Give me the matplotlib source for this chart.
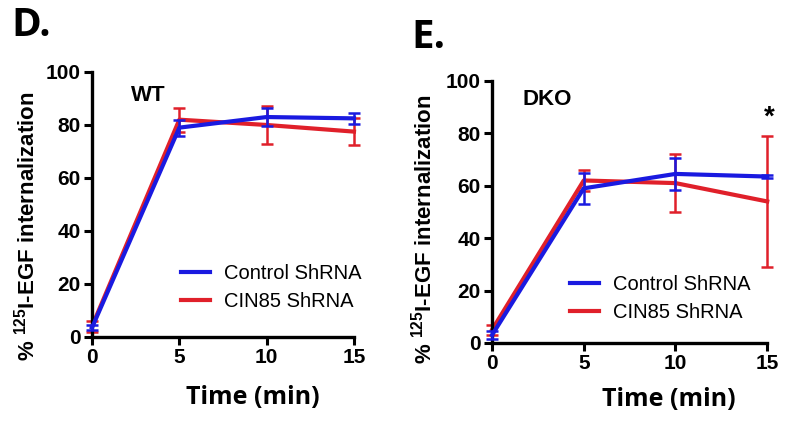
import numpy as np
import matplotlib
matplotlib.use("Agg")
import matplotlib.pyplot as plt

plt.rcParams['font.family'] = ['Liberation Sans', 'DejaVu Sans']
plt.rcParams['mathtext.fontset'] = 'custom'
plt.rcParams['mathtext.rm'] = 'Liberation Sans'
plt.rcParams['mathtext.bf'] = 'Liberation Sans:bold'

# time points (min)
time = [0, 5, 10, 15]

# WT panel
wt_control = [3.5, 79, 83, 82.5]
wt_control_err = [1.0, 3.0, 3.5, 2.0]
wt_cin85 = [4.0, 82, 80, 77.5]
wt_cin85_err = [2.0, 4.5, 7.0, 5.0]

# DKO panel
dko_control = [3.0, 59, 64.5, 63.5]
dko_control_err = [1.5, 6.0, 6.0, 0.5]
dko_cin85 = [5.0, 62, 61, 54]
dko_cin85_err = [2.0, 4.0, 11.0, 25.0]

series_labels = ['Control ShRNA', 'CIN85 ShRNA']
blue = '#1a1ae0'
red = '#e0202a'

fig = plt.figure(figsize=(8, 4.29), dpi=100)

def draw_series(ax, y, err, color, label, z):
    cont = ax.errorbar(time, y, yerr=err, color=color, lw=3, capsize=4.5,
                       elinewidth=1.8, capthick=1.8, label=label, zorder=z)
    for art in cont.get_children():
        art.set_clip_on(False)
    return cont

def panel(rect, ctrl, ctrl_err, cin, cin_err, tag, tag_xy, leg_anchor):
    ax = fig.add_axes(rect)
    c_red = draw_series(ax, cin, cin_err, red, series_labels[1], 2)
    c_blue = draw_series(ax, ctrl, ctrl_err, blue, series_labels[0], 3)
    ax.set_xlim(0, 15)
    ax.set_ylim(0, 100)
    ax.set_xticks([0, 5, 10, 15])
    ax.set_yticks([0, 20, 40, 60, 80, 100])
    ax.spines['top'].set_visible(False)
    ax.spines['right'].set_visible(False)
    for s in ['left', 'bottom']:
        ax.spines[s].set_linewidth(2.4)
    ax.tick_params(width=2.2, length=6, labelsize=15, pad=2)
    for lab in ax.get_xticklabels() + ax.get_yticklabels():
        lab.set_fontweight('bold')
    ax.text(tag_xy[0], tag_xy[1], tag, transform=ax.transAxes,
            fontsize=16, fontweight='bold', ha='left', va='center')
    ax.legend([c_blue[0], c_red[0]], series_labels, loc='center left',
              bbox_to_anchor=leg_anchor, frameon=False, fontsize=14.5,
              handlelength=1.45, handletextpad=0.65, labelspacing=0.45,
              borderaxespad=0)
    return ax

ax1 = panel([0.115, 0.2145, 0.3275, 0.6177], wt_control, wt_control_err,
            wt_cin85, wt_cin85_err, 'WT', (0.15, 0.91), (0.31, 0.185))
ax2 = panel([0.615, 0.2005, 0.344, 0.611], dko_control, dko_control_err,
            dko_cin85, dko_cin85_err, 'DKO', (0.11, 0.93), (0.255, 0.17))

ax2.text(15.1, 86, '*', fontsize=20, fontweight='bold', ha='center', va='center')

ylab = r'% $^{\mathbf{125}}$I-EGF internalization'
fig.text(27 / 800, 1 - 226 / 429, ylab, rotation=90, ha='center', va='center',
         fontsize=16, fontweight='bold')
fig.text(424 / 800, 1 - 229 / 429, ylab, rotation=90, ha='center', va='center',
         fontsize=16, fontweight='bold')

fig.text(253 / 800, 1 - 398 / 429, 'Time (min)', ha='center', va='center',
         fontsize=18, fontweight='bold', family=['Open Sans', 'DejaVu Sans'])
fig.text(669 / 800, 1 - 400 / 429, 'Time (min)', ha='center', va='center',
         fontsize=18, fontweight='bold', family=['Open Sans', 'DejaVu Sans'])

fig.text(11 / 800, 1 - 26 / 429, 'D.', ha='left', va='center',
         fontsize=29, fontweight='bold', family=['Open Sans', 'DejaVu Sans'])
fig.text(411 / 800, 1 - 38 / 429, 'E.', ha='left', va='center',
         fontsize=29, fontweight='bold', family=['Open Sans', 'DejaVu Sans'])

fig.savefig('out.png', dpi=100)
